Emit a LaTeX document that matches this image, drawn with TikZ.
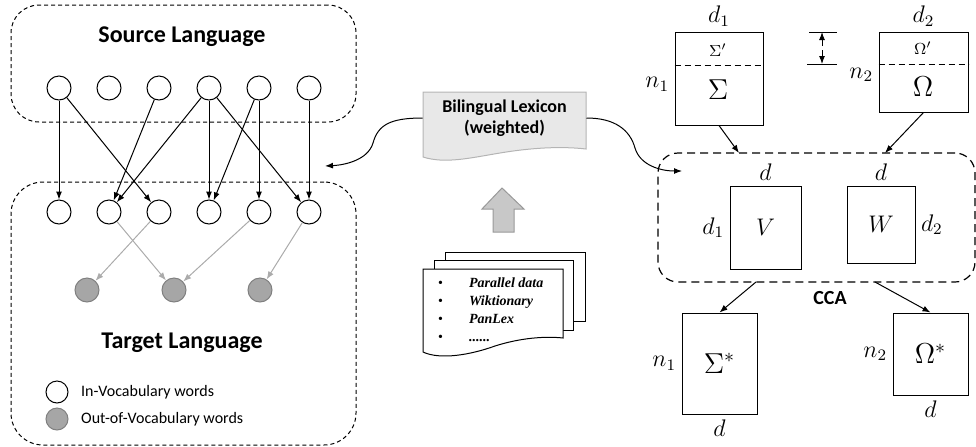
\documentclass[tikz,border=0pt]{standalone}
\usepackage[no-math]{fontspec}
\setmainfont{Carlito}
\newfontfamily\docfont{Liberation Serif}
\usetikzlibrary{arrows.meta,positioning}
\tikzset{>/.tip={Latex[length=4pt,width=3pt]}}
\definecolor{oovgray}{HTML}{A6A6A6}
\definecolor{linkgray}{HTML}{ABABAB}
\definecolor{lexfill}{HTML}{E8E8E8}
\definecolor{lexdraw}{HTML}{B4B4B4}
\definecolor{upgray}{HTML}{C8C8C8}
\tikzset{word/.style={circle,draw,minimum size=12pt,inner sep=0pt}}
\tikzset{oov/.style={circle,draw=gray,fill=oovgray,minimum size=12pt,inner sep=0pt}}
\tikzset{group/.style={draw,dash pattern=on 2pt off 1.5pt,rounded corners=14pt}}
\tikzset{mat/.style={draw,rectangle,inner sep=0pt,font=\large}}
\tikzset{every label/.style={font=\large,inner sep=2.5pt}}
\newcommand\itemdot{{\mdseries\upshape\textbullet}}

\begin{document}
\begin{tikzpicture}[x=0.5pt,y=-0.5pt,node distance=25pt,on grid,line width=0.5pt]
        \useasboundingbox (0,0) rectangle (976,446);
        \node(src)[group,minimum width=172.5pt,minimum height=58.5pt] at (183.5,63.5){};
        \node(tgt)[group,rounded corners=16pt,minimum width=172.5pt,minimum height=131.5pt] at (183.5,313.5){};
        \node(srcname)[font=\fontsize{12}{14}\selectfont\bfseries] at (182,37){Source Language};
        \node(tgtname)[font=\fontsize{12}{14}\selectfont\bfseries] at (182,343){Target Language};
        \node(s1)[word] at (59,88){};
        \node(s2)[word,right=of s1]{};
        \node(s3)[word,right=of s2]{};
        \node(s4)[word,right=of s3]{};
        \node(s5)[word,right=of s4]{};
        \node(s6)[word,right=of s5]{};
        \node(t1)[word,below=62pt of s1]{};
        \node(t2)[word,right=of t1]{};
        \node(t3)[word,right=of t2]{};
        \node(t4)[word,right=of t3]{};
        \node(t5)[word,right=of t4]{};
        \node(t6)[word,right=of t5]{};
        \node(o1)[oov,below left=39pt and 11pt of t2]{};
        \node(o2)[oov,right=43.5pt of o1]{};
        \node(o3)[oov,right=43pt of o2]{};
        \draw[->]
        (s1) edge (t1)
        (s1) edge (t3)
        (s3) edge (t2)
        (s4) edge (t2)
        (s4) edge (t4)
        (s4) edge (t6)
        (s5) edge (t4)
        (s5) edge (t5)
        (s6) edge (t6);
        \draw[->,linkgray]
        (t2) edge (o2)
        (t3) edge (o1)
        (t5) edge (o2)
        (t6) edge (o3);
        \node(key1)[word,minimum size=11pt] at (57,392){};
        \node(key2)[oov,minimum size=11pt,below=13.5pt of key1]{};
        \node(key1txt)[anchor=west,font=\fontsize{8}{10}\selectfont] at (74,392){In-Vocabulary words};
        \node(key2txt)[anchor=west,font=\fontsize{8}{10}\selectfont] at (74,419){Out-of-Vocabulary words};
        \filldraw[fill=lexfill,draw=lexdraw] (423,92) -- (586,92) -- (586,149)
        .. controls (560,146) and (530,148) .. (500,153)
        .. controls (470,158) and (445,164) .. (423,157) -- cycle;
        \node(lex)[font=\fontsize{9}{10.5}\selectfont\bfseries,align=center,minimum width=81.5pt,minimum height=28pt,inner sep=0pt] at (504.5,118){Bilingual Lexicon\\(weighted)};
        \coordinate(tgtin) at (325,166);
        \coordinate(ccain) at (682,171);
        \draw[->] (lex.west) .. controls (390,118) and (378,125) .. (373,143)
        .. controls (368,160) and (345,165) .. (tgtin);
        \draw[->] (lex.east) .. controls (615,118) and (630,130) .. (635,148)
        .. controls (640,165) and (660,171) .. (ccain);
        \filldraw[fill=upgray,draw=gray!80] (502,188) -- (524,209) -- (514,209) -- (514,232)
        -- (493,232) -- (493,209) -- (482,209) -- cycle;
        \filldraw[fill=white] (445,252) rectangle (585,321);
        \filldraw[fill=white] (434,260) rectangle (573,330);
        \filldraw[fill=white] (423,269) -- (563,269) -- (563,338)
        .. controls (545,336) and (520,338) .. (495,346)
        .. controls (470,355) and (440,360) .. (423,352) -- cycle;
        \node(res)[anchor=west,font=\docfont\fontsize{7}{9}\selectfont\bfseries\itshape] at (431,310.5){%
          \begin{tabular}{@{}l@{\hspace{13pt}}l@{}}
            \itemdot & Parallel data\\
            \itemdot & Wiktionary\\
            \itemdot & PanLex\\
            \itemdot & ......
          \end{tabular}};
        \node(sig)[mat,minimum width=44pt,minimum height=46.5pt,label={above:$d_1$},label={[yshift=-3pt]left:$n_1$}] at (719,78.5){};
        \draw[dash pattern=on 3pt off 2pt] ([yshift=-17pt]sig.north west) -- ([yshift=-17pt]sig.north east);
        \node(sigtop)[font=\footnotesize] at (718,50){$\Sigma'$};
        \node(sigmain)[font=\Large] at (718,90){$\Sigma$};
        \node(om)[mat,minimum width=44.5pt,minimum height=40pt,label={above:$d_2$},label={[yshift=-1.5pt]left:$n_2$}] at (923.5,72){};
        \draw[dash pattern=on 3pt off 2pt] ([yshift=-16.5pt]om.north west) -- ([yshift=-16.5pt]om.north east);
        \node(omtop)[font=\footnotesize] at (923,48){$\Omega'$};
        \node(ommain)[font=\Large] at (923,87){$\Omega$};
        \coordinate(bartop) at (822,32);
        \coordinate(barbot) at (822,64);
        \draw (809,32) -- (837,32) (807,64) -- (837,64);
        \draw[->] (822,46) -- (bartop);
        \draw[->] (822,50) -- (barbot);
        \node(cca)[draw,dash pattern=on 4pt off 2.5pt,line width=0.6pt,rounded corners=10pt,minimum width=158.5pt,minimum height=64.5pt] at (816.5,217.5){};
        \node(ccaname)[font=\fontsize{10}{12}\selectfont\bfseries] at (830,298){CCA};
        \node(V)[mat,minimum width=35.5pt,minimum height=41.5pt,label={above:$d$},label={left:$d_1$}] at (765.5,227.5){$V$};
        \node(W)[mat,minimum width=34pt,minimum height=38.5pt,label={above:$d$},label={right:$d_2$}] at (881,224.5){$W$};
        \node(sigstar)[mat,minimum width=37.5pt,minimum height=50.5pt,label={below:$d$},label={left:$n_1$}] at (719.5,363.5){\Large$\Sigma^*$};
        \node(omstar)[mat,minimum width=37.5pt,minimum height=41pt,label={below:$d$},label={left:$n_2$}] at (930.5,354){\Large$\Omega^*$};
        \coordinate(ccatop1) at (739,153);
        \coordinate(ccatop2) at (885,153);
        \coordinate(ccabot1) at (756,282);
        \coordinate(ccabot2) at (875,282);
        \draw[->] (sig.south) -- (ccatop1);
        \draw[->] (om.south) -- (ccatop2);
        \draw[->] (ccabot1) -- (sigstar.north);
        \draw[->] (ccabot2) -- (omstar.north);
      \end{tikzpicture}
\end{document}
